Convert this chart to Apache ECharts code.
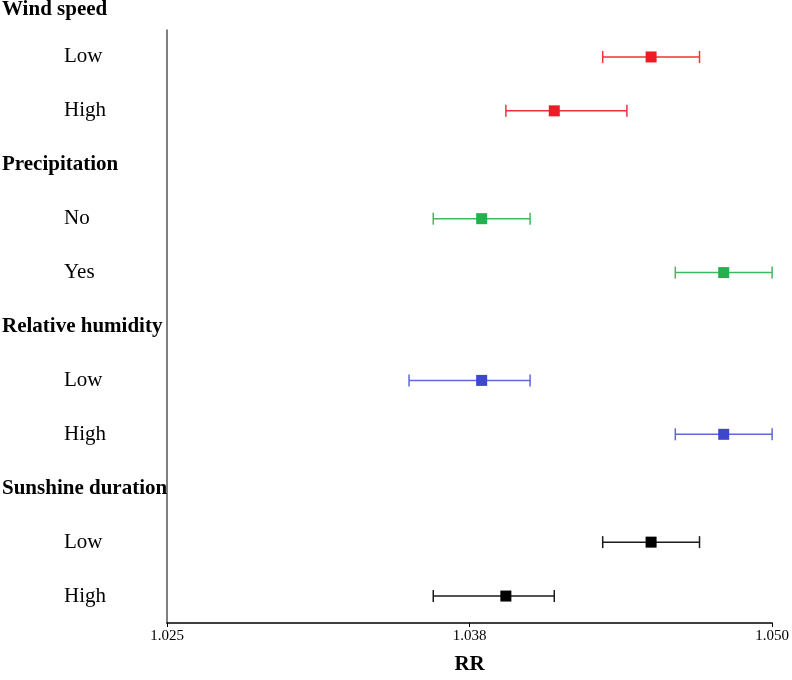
<!DOCTYPE html>
<html>
<head>
<meta charset="utf-8">
<script src="https://cdn.jsdelivr.net/npm/echarts@6/dist/echarts.min.js"></script>
<style>
html,body{margin:0;padding:0;background:#fff;overflow:hidden;}
#chart{width:792px;height:680px;}
</style>
</head>
<body>
<div id="chart"></div>
<script>
// ---- data ----
var groups = ['Wind speed', 'Precipitation', 'Relative humidity', 'Sunshine duration'];
var levels = [['Low', 'High'], ['No', 'Yes'], ['Low', 'High'], ['Low', 'High']];
var rrValues = [1.045, 1.041, 1.038, 1.048, 1.038, 1.048, 1.045, 1.039];
var lowerCI  = [1.043, 1.039, 1.036, 1.046, 1.035, 1.046, 1.043, 1.036];
var upperCI  = [1.047, 1.044, 1.040, 1.050, 1.040, 1.050, 1.047, 1.041];
var groupColors = ['#ED1C24', '#22B14C', '#3F48CC', '#000000'];
var lineColors  = ['#EE3338', '#3DBA5E', '#5F67DD', '#1a1a1a'];
var xTickLabels = ['1.025', '1.038', '1.050'];
var X_MIN = 1.025, X_MAX = 1.050, X_INTERVAL = 0.0125;

// ---- build rows ----
var labelData = [];
var labelMeta = [];
var barData = [];
var row = 0, k = 0;
groups.forEach(function (g, gi) {
  labelData.push([X_MIN, row]); labelMeta.push({ text: g, header: true });
  row++;
  levels[gi].forEach(function (lv) {
    labelData.push([X_MIN, row]); labelMeta.push({ text: lv, header: false });
    barData.push([rrValues[k], lowerCI[k], upperCI[k], row, gi]);
    row++; k++;
  });
});

var FONT = '"Liberation Serif", "Times New Roman", serif';

var chart = echarts.init(document.getElementById('chart'), null, { renderer: 'canvas' });
chart.setOption({
  backgroundColor: '#ffffff',
  animation: false,
  grid: { left: 167, right: 16, top: 30, bottom: 51, containLabel: false },
  xAxis: {
    type: 'value',
    min: X_MIN, max: X_MAX, interval: X_INTERVAL,
    name: 'RR', nameLocation: 'middle', nameGap: 31,
    nameTextStyle: { fontFamily: FONT, fontWeight: 'bold', fontSize: 21, color: '#000' },
    axisLine: { show: true, lineStyle: { color: '#000', width: 1.5 } },
    axisTick: { show: true, length: 4, lineStyle: { color: '#000', width: 1 } },
    axisLabel: {
      margin: 6, fontFamily: FONT, fontSize: 15, color: '#000',
      formatter: function (v, i) { return xTickLabels[i] !== undefined ? xTickLabels[i] : ''; }
    },
    splitLine: { show: false }
  },
  yAxis: {
    type: 'value', inverse: true, min: 0.5, max: 11.5,
    axisLine: { show: true, onZero: false, lineStyle: { color: '#555', width: 1.5 } },
    axisTick: { show: false },
    axisLabel: { show: false },
    splitLine: { show: false }
  },
  series: [
    {
      type: 'custom',
      clip: false,
      silent: true,
      encode: { x: 0, y: 1 },
      data: labelData,
      renderItem: function (params, api) {
        var meta = labelMeta[params.dataIndex];
        var p = api.coord([api.value(0), api.value(1)]);
        var x = meta.header ? p[0] - 165 : p[0] - 103;
        var y = meta.header ? Math.max(p[1], 10) : p[1];
        return {
          type: 'text',
          x: x, y: y,
          style: {
            text: meta.text,
            fill: '#000',
            font: (meta.header ? 'bold ' : '') + '21px ' + FONT,
            align: 'left',
            verticalAlign: 'middle'
          }
        };
      }
    },
    {
      type: 'custom',
      clip: false,
      silent: true,
      encode: { x: [0, 1, 2], y: 3 },
      data: barData,
      renderItem: function (params, api) {
        var y = api.value(3);
        var gi = api.value(4);
        var c = api.coord([api.value(0), y]);
        var lo = api.coord([api.value(1), y]);
        var hi = api.coord([api.value(2), y]);
        var lc = lineColors[gi], fc = groupColors[gi];
        var cap = 6, sz = 11;
        return {
          type: 'group',
          children: [
            { type: 'line', shape: { x1: lo[0], y1: lo[1], x2: hi[0], y2: hi[1] }, style: { stroke: lc, lineWidth: 1.5 } },
            { type: 'line', shape: { x1: lo[0], y1: lo[1] - cap, x2: lo[0], y2: lo[1] + cap }, style: { stroke: lc, lineWidth: 1.5 } },
            { type: 'line', shape: { x1: hi[0], y1: hi[1] - cap, x2: hi[0], y2: hi[1] + cap }, style: { stroke: lc, lineWidth: 1.5 } },
            { type: 'rect', shape: { x: c[0] - sz / 2, y: c[1] - sz / 2, width: sz, height: sz }, style: { fill: fc } }
          ]
        };
      }
    }
  ]
});
</script>
</body>
</html>
